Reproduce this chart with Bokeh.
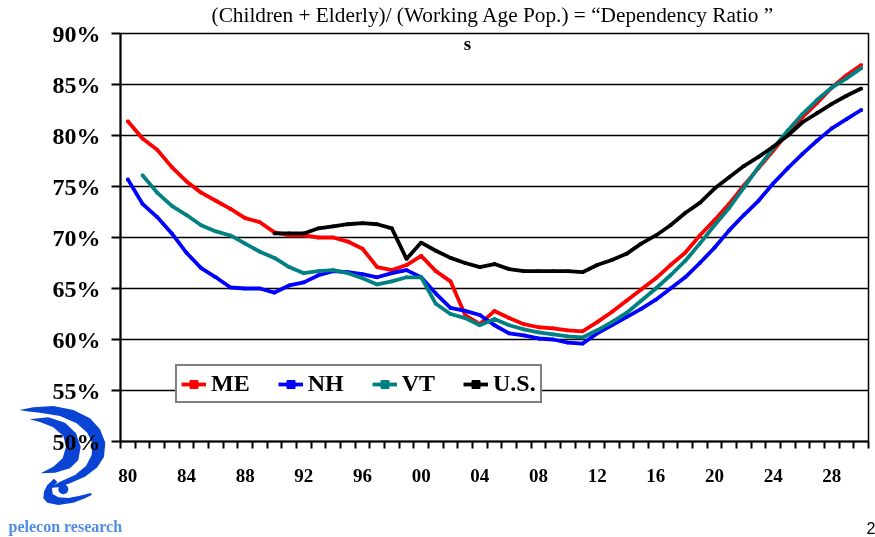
import numpy as np
from bokeh.plotting import figure
from bokeh.models import FixedTicker, Label, Legend, LegendItem, Range1d, Div
from bokeh.embed import file_html
from bokeh.resources import INLINE

# ---------------- data ----------------
years = list(range(1980, 2031))
me = [81.4, 79.7, 78.6, 76.9, 75.5, 74.4, 73.6, 72.8, 71.9, 71.5,
      70.5, 70.2, 70.2, 70.0, 70.0, 69.6, 68.9, 67.1, 66.8, 67.3,
      68.2, 66.7, 65.7, 62.4, 61.5, 62.8, 62.1, 61.5, 61.2, 61.1,
      60.9, 60.8, 61.7, 62.7, 63.8, 64.9, 66.0, 67.3, 68.5, 70.2,
      71.7, 73.3, 75.1, 76.8, 78.5, 80.3, 81.8, 83.2, 84.7, 85.9, 86.9]
nh = [75.7, 73.3, 72.0, 70.4, 68.5, 67.0, 66.1, 65.1, 65.0, 65.0,
      64.6, 65.3, 65.6, 66.3, 66.7, 66.6, 66.4, 66.1, 66.5, 66.8,
      66.1, 64.5, 63.1, 62.8, 62.4, 61.4, 60.6, 60.4, 60.1, 60.0,
      59.7, 59.6, 60.6, 61.4, 62.2, 63.0, 63.9, 65.0, 66.1, 67.5,
      69.0, 70.7, 72.2, 73.6, 75.3, 76.8, 78.2, 79.5, 80.7, 81.6, 82.5]
vt = [None, 76.1, 74.4, 73.1, 72.2, 71.2, 70.6, 70.2, 69.4, 68.6,
      68.0, 67.1, 66.5, 66.7, 66.8, 66.5, 66.0, 65.4, 65.7, 66.1,
      66.1, 63.5, 62.5, 62.1, 61.4, 62.0, 61.4, 61.0, 60.7, 60.5,
      60.3, 60.2, 60.9, 61.7, 62.6, 63.8, 65.0, 66.3, 67.7, 69.4,
      71.2, 72.9, 74.9, 76.9, 78.7, 80.5, 82.1, 83.5, 84.7, 85.6, 86.6]
us = [None, None, None, None, None, None, None, None, None, None,
      70.4, 70.4, 70.4, 70.9, 71.1, 71.3, 71.4, 71.3, 70.9, 67.9,
      69.5, 68.7, 68.0, 67.5, 67.1, 67.4, 66.9, 66.7, 66.7, 66.7,
      66.7, 66.6, 67.3, 67.8, 68.4, 69.4, 70.2, 71.2, 72.4, 73.4,
      74.8, 75.9, 77.0, 77.9, 78.9, 80.0, 81.3, 82.2, 83.1, 83.9, 84.6]
series_names = ["ME", "NH", "VT", "U.S."]
series_values = [me, nh, vt, us]
series_colors = ["#FF0000", "#0000FF", "#008080", "#000000"]

x_label_years = [1980, 1984, 1988, 1992, 1996, 2000, 2004, 2008, 2012, 2016, 2020, 2024, 2028]
x_labels = ["80", "84", "88", "92", "96", "00", "04", "08", "12", "16", "20", "24", "28"]
y_ticks = [50, 55, 60, 65, 70, 75, 80, 85, 90]
y_labels = ["50%", "55%", "60%", "65%", "70%", "75%", "80%", "85%", "90%"]

title_text = "(Children + Elderly)/ (Working Age Pop.) = \u201cDependency Ratio \u201d"
sub_text = "s"
logo_text = "pelecon research"
page_text = "2"

# ---------------- figure ----------------
SERIF = "Liberation Serif"
W, H = 875, 537
FL, FR, FT, FB = 120, 7, 33, 96  # borders around the frame

x0, x1 = years[0] - 0.5, years[-1] + 0.5
y0, y1 = y_ticks[0], y_ticks[-1]

p = figure(width=W, height=H, output_backend="svg", toolbar_location=None,
           x_range=Range1d(x0, x1), y_range=Range1d(y0, y1),
           min_border_left=FL, min_border_right=FR, min_border_top=FT, min_border_bottom=FB,
           background_fill_color="white", border_fill_color="white")
p.outline_line_color = "black"
p.outline_line_width = 1.5
p.title.visible = False

# x axis
xa = p.xaxis[0]
xa.ticker = FixedTicker(ticks=x_label_years,
                        minor_ticks=[y - 0.5 for y in years] + [years[-1] + 0.5])
xa.major_label_overrides = {float(k): v for k, v in zip(x_label_years, x_labels)}
xa.major_tick_out = 0
xa.major_tick_in = 0
xa.minor_tick_out = 7
xa.minor_tick_in = 0
xa.minor_tick_line_width = 2
xa.minor_tick_line_color = "black"
xa.axis_line_width = 2
xa.axis_line_color = "black"
xa.major_label_standoff = 20
xa.major_label_text_font = SERIF
xa.major_label_text_font_style = "bold"
xa.major_label_text_font_size = "19px"
xa.major_label_text_color = "black"

# y axis
ya = p.yaxis[0]
ya.ticker = FixedTicker(ticks=y_ticks, minor_ticks=[])
ya.major_label_overrides = {float(k): v for k, v in zip(y_ticks, y_labels)}
ya.major_tick_out = 9
ya.major_tick_in = 0
ya.major_tick_line_width = 2
ya.major_tick_line_color = "black"
ya.minor_tick_out = 0
ya.minor_tick_in = 0
ya.axis_line_width = 2
ya.axis_line_color = "black"
ya.major_label_standoff = 11
ya.major_label_text_font = SERIF
ya.major_label_text_font_style = "bold"
ya.major_label_text_font_size = "24px"
ya.major_label_text_color = "black"

p.xgrid.visible = False
p.ygrid.grid_line_color = "black"
p.ygrid.grid_line_width = 1.3
p.ygrid.grid_line_alpha = 1.0

# lines with small point markers
items = []
for name, vals, col in zip(series_names, series_values, series_colors):
    y = np.array([np.nan if v is None else v for v in vals], dtype=float)
    r = p.line(years, y, line_color=col, line_width=3.8)
    m = p.scatter(years, y, marker="square", size=2.5, fill_color=col, line_color=col)
    items.append(LegendItem(label=name, renderers=[r, m]))

legend = Legend(items=items, orientation="horizontal", location=(55, 38),
                label_text_font=SERIF, label_text_font_style="bold",
                label_text_font_size="24px", label_text_color="black",
                glyph_width=25, glyph_height=20, label_standoff=5, spacing=28,
                padding=4, margin=0,
                border_line_color="black", border_line_width=2,
                background_fill_color="white", background_fill_alpha=1.0)
p.add_layout(legend, "center")

# page pixel -> data coordinates (through the frame's scales)
FW, FH = W - FL - FR, H - FT - FB


def dx(px):
    return x0 + (px - FL) / FW * (x1 - x0)


def dy(py):
    return y0 + (H - FB - py) / FH * (y1 - y0)


p.add_layout(Label(x=dx(492.5), y=dy(14), text=title_text,
                   text_font=SERIF, text_font_size="21.3px", text_color="black",
                   text_align="center", text_baseline="middle"), "above")
p.add_layout(Label(x=dx(467), y=dy(43), text=sub_text,
                   text_font=SERIF, text_font_size="19px", text_font_style="bold",
                   text_color="black", text_align="center", text_baseline="middle"))
p.add_layout(Label(x=dx(866), y=dy(527), text=page_text,
                   text_font="Liberation Sans", text_font_size="16px", text_color="black",
                   text_align="left", text_baseline="middle"), "below")
p.add_layout(Label(x=dx(8), y=dy(526), text=logo_text,
                   text_font="Liberation Sans Narrow", text_font_size="16px",
                   text_font_style="bold", text_color="#4F8DE6",
                   text_align="left", text_baseline="middle"), "below")

# logo graphic (decorative), floated over the bottom-left corner
LOGO_BLUE = "#0A44D4"
logo_shapes = [
    [(28, 30), (70, 22), (130, 18), (190, 30), (240, 55), (270, 88), (286, 128), (282, 170),
     (262, 202), (225, 230), (180, 250), (145, 262), (118, 264), (150, 245), (195, 225),
     (228, 198), (245, 165), (247, 130), (232, 98), (200, 70), (150, 48), (90, 38), (50, 34)],
    [(58, 58), (115, 52), (165, 68), (198, 100), (212, 140), (205, 180), (180, 205), (135, 218),
     (92, 220), (130, 200), (158, 175), (168, 140), (160, 108), (130, 82), (90, 66)],
    [(132, 236), (112, 255), (102, 275), (100, 295), (112, 308), (145, 315), (190, 308),
     (225, 295), (246, 284), (242, 279), (210, 287), (175, 294), (145, 292), (128, 282),
     (126, 264), (142, 246)],
]
paths = "".join(
    '<polygon points="%s" fill="%s"/>' % (" ".join("%g,%g" % pt for pt in shp), LOGO_BLUE)
    for shp in logo_shapes)
paths += '<circle cx="160" cy="268" r="15" fill="%s"/>' % LOGO_BLUE
svg = ('<svg xmlns="http://www.w3.org/2000/svg" width="105" height="110" '
       'viewBox="0 0 315 330">%s</svg>' % paths)
logo = Div(text=svg, width=105, height=110, margin=0,
           styles={"position": "absolute", "left": "10px", "top": "400px",
                   "mix-blend-mode": "multiply", "pointer-events": "none"})
p.elements = [logo]

open("out.html", "w").write(file_html(p, INLINE))
